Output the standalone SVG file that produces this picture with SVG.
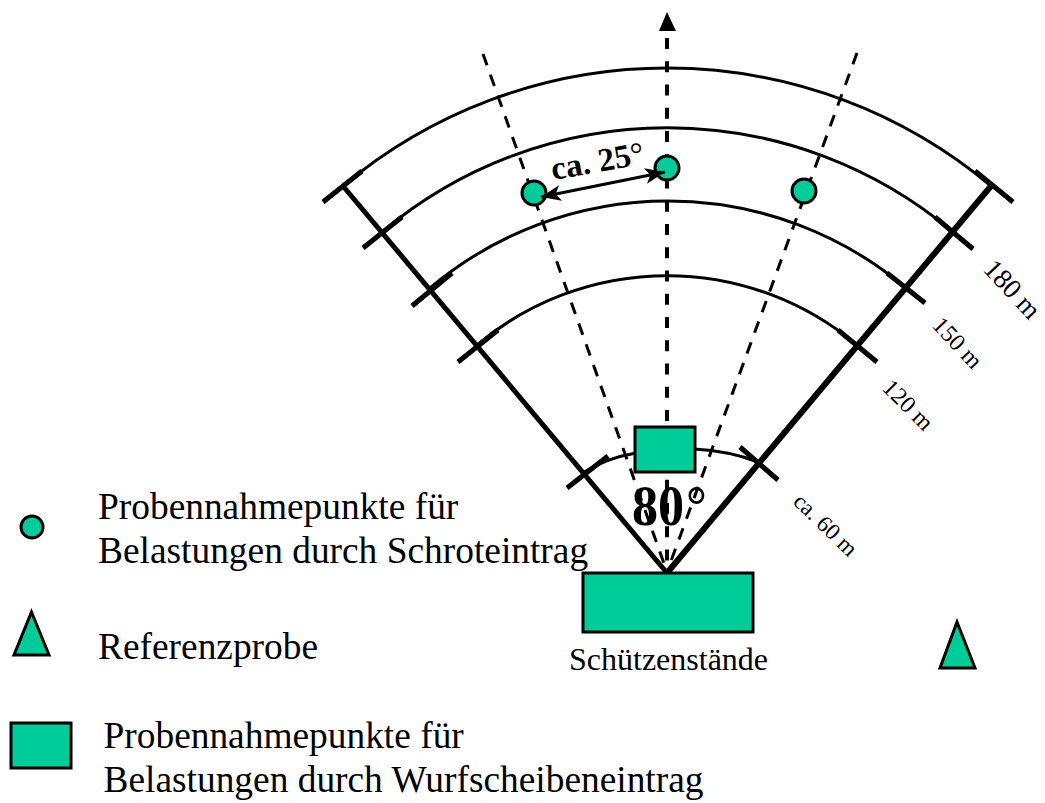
<svg xmlns="http://www.w3.org/2000/svg" width="1045" height="803" viewBox="0 0 1045 803">
<style>
.f{fill:#00cc99;stroke:#000;stroke-width:3}
.arc{fill:none;stroke:#000;stroke-width:3}
.tick{stroke:#000;stroke-width:5;fill:none}
.d{stroke:#000;stroke-width:3;stroke-dasharray:12 10;fill:none}
.dc{stroke:#000;stroke-width:4;stroke-dasharray:11 12.25;fill:none}
text{font-family:"Liberation Serif","Times New Roman",serif;fill:#000}
.leg{font-size:37.4px}
.dist{font-size:24px}
</style>
<defs>
<marker id="a" markerWidth="22" markerHeight="20" refX="20" refY="8" orient="auto-start-reverse" markerUnits="userSpaceOnUse"><path d="M0 0L20 8L0 16L5 8Z" fill="#000"/></marker>
</defs>
<g id="connectors">
<path class="arc" d="M343 186A504 504 0 0 1 991 186"/>
<path class="arc" d="M382 232A443 443 0 0 1 953 232"/>
<path class="arc" d="M430 288A369 369 0 0 1 906 288"/>
<path class="arc" d="M477 345A295 295 0 0 1 857 345"/>
<path class="arc" d="M584 472Q607 458 636 453M694 449Q730 451 758 462"/>
<path class="d" d="M483 54L667 572"/>
<path class="d" d="M857 53L667 572"/>
<path class="dc" d="M667 38V572"/>
<path d="M667 12L659 31H676Z" fill="#000"/>
<path stroke="#000" stroke-width="5" fill="none" d="M343 186L667 573"/>
<path stroke="#000" stroke-width="6" fill="none" d="M991 186L667 573"/>
<path class="tick" d="M323 202L362 171M363 248L402 217M412 306L452 273M458 362L498 330M567 488L608 456"/>
<path class="tick" d="M975 171L1013 202M935 217L973 249M887 273L925 303M838 330L877 362M740 447L778 480"/>
</g>
<g id="node-sample-left"><circle class="f" cx="534" cy="193" r="12"/></g>
<g id="node-sample-center"><circle class="f" cx="667" cy="168" r="12"/></g>
<g id="node-sample-right"><circle class="f" cx="804" cy="191" r="12"/></g>
<g id="node-angle-arrow"><path d="M541 197L665 172" stroke="#000" stroke-width="3" fill="none" marker-start="url(#a)" marker-end="url(#a)"/></g>
<g id="node-target"><rect class="f" x="635" y="427" width="60" height="45"/></g>
<g id="node-stands"><rect class="f" x="583" y="573" width="170" height="59"/></g>
<g id="label-stands"><text x="569" y="670" font-size="32">Schützenstände</text></g>
<g id="label-25"><text font-size="33" font-weight="bold" transform="translate(553 180) rotate(-10)">ca. 25<tspan font-weight="normal">°</tspan></text></g>
<g id="label-80"><text font-size="56" font-weight="bold" transform="translate(632 525) scale(.93 1)">80<tspan font-weight="normal" dx="2">°</tspan></text></g>
<g id="label-dists">
<text class="dist" style="font-size:27.5px" transform="translate(982 270) rotate(47)">180 m</text>
<text class="dist" transform="translate(931 326) rotate(47)">150 m</text>
<text class="dist" transform="translate(881 389) rotate(45)">120 m</text>
<text class="dist" style="font-size:23px" transform="translate(792 503) rotate(44)">ca. 60 m</text>
</g>
<g id="legend-circle"><circle class="f" cx="32" cy="527" r="11"/></g>
<g id="legend-triangle"><path class="f" d="M31.500 612L49 655H14Z"/></g>
<g id="reference-triangle"><path class="f" d="M957 622L975 668H940Z"/></g>
<g id="legend-rect"><rect class="f" x="11" y="723" width="60" height="45"/></g>
<g id="legend-text">
<text class="leg" x="98" y="519">Probennahmepunkte für</text>
<text class="leg" x="98" y="563">Belastungen durch Schroteintrag</text>
<text class="leg" x="98" y="659">Referenzprobe</text>
<text class="leg" x="103.500" y="748">Probennahmepunkte für</text>
<text class="leg" x="103.500" y="792">Belastungen durch Wurfscheibeneintrag</text>
</g>
</svg>
